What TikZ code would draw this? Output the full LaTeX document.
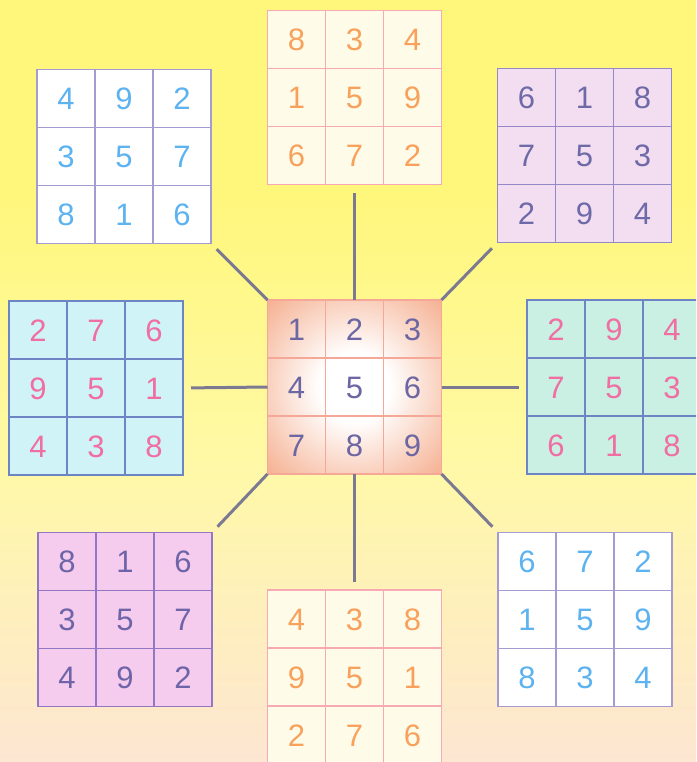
\documentclass[tikz,border=0pt]{standalone}
\usepackage{fontspec}
\setmainfont{Liberation Sans}
\usetikzlibrary{calc}
\definecolor{bgtop}{HTML}{FFF77C}
\definecolor{bgmid}{HTML}{FFF9A6}
\definecolor{bgbot}{HTML}{FDE6D2}
\definecolor{connc}{HTML}{7B7A92}
\definecolor{cenline}{HTML}{F5A898}
\definecolor{centext}{HTML}{6C66A3}
\definecolor{cenouter}{HTML}{F5AE8E}
\definecolor{crfill}{HTML}{FFFBE9}
\definecolor{crline}{HTML}{F7A9B4}
\definecolor{crtext}{HTML}{F7A15C}
\definecolor{whline}{HTML}{A59BD0}
\definecolor{whtext}{HTML}{5DB2F0}
\definecolor{lvfill}{HTML}{F3DDF0}
\definecolor{lvline}{HTML}{9488C6}
\definecolor{lvtext}{HTML}{6E6AA8}
\definecolor{pkfill}{HTML}{F5CBEE}
\definecolor{pkline}{HTML}{9278C4}
\definecolor{pktext}{HTML}{6E64A8}
\definecolor{cyfill}{HTML}{CFF3F6}
\definecolor{mnfill}{HTML}{C9F0E3}
\definecolor{blline}{HTML}{6E84C4}
\definecolor{pitext}{HTML}{F06EA2}
\pgfdeclareverticalshading{bgshade}{100bp}{color(0bp)=(bgbot); color(25bp)=(bgbot); color(45bp)=(bgmid); color(62bp)=(bgtop); color(75bp)=(bgtop); color(100bp)=(bgtop)}
\pgfdeclareradialshading{censhade}{\pgfpoint{0bp}{0bp}}{color(0bp)=(white); color(10bp)=(white); color(36bp)=(cenouter); color(50bp)=(cenouter)}
\tikzset{
  sqbox/.style={rectangle, minimum size=174pt, inner sep=0pt, outer sep=0pt, line width=1.5pt},
  digit/.style={font=\fontsize{31}{31}\selectfont, inner sep=0pt, text height=22pt, text depth=0pt, anchor=center},
  conn/.style={draw=connc, line width=3pt, shorten >=8pt},
  cenbox/.style={draw=cenline, shading=censhade},
  cenline/.style={draw=cenline, line width=1.5pt},
  centext/.style={text=centext},
  crbox/.style={draw=crline, fill=crfill},
  crline/.style={draw=crline, line width=1.5pt},
  crtext/.style={text=crtext},
  whbox/.style={draw=whline, fill=white},
  whline/.style={draw=whline, line width=1.5pt},
  whtext/.style={text=whtext},
  lvbox/.style={draw=lvline, fill=lvfill},
  lvline/.style={draw=lvline, line width=1.5pt},
  lvtext/.style={text=lvtext},
  pkbox/.style={draw=pkline, fill=pkfill},
  pkline/.style={draw=pkline, line width=1.5pt},
  pktext/.style={text=pktext},
  cybox/.style={draw=blline, fill=cyfill},
  cyline/.style={draw=blline, line width=1.5pt},
  cytext/.style={text=pitext},
  mnbox/.style={draw=blline, fill=mnfill},
  mnline/.style={draw=blline, line width=1.5pt},
  mntext/.style={text=pitext},
}
\newcommand\magicsq[4]{%
  \node[sqbox, #3box] (#1) at (#2) {};
  \foreach \k in {1,2} {
    \draw[#3line] ($(#1.north west)!\k/3!(#1.north east)$) -- ($(#1.south west)!\k/3!(#1.south east)$);
    \draw[#3line] ($(#1.north west)!\k/3!(#1.south west)$) -- ($(#1.north east)!\k/3!(#1.south east)$);
  }
  \foreach \d [count=\i from 0] in {#4} {
    \pgfmathtruncatemacro\rr{int(\i/3)}
    \pgfmathtruncatemacro\cc{mod(\i,3)}
    \node[digit, #3text] at ($(#1.center)+(\cc*58-58,\rr*58-58)$) {\d};
  }
}
\begin{document}
\begin{tikzpicture}[x=1pt,y=-1pt]
  \useasboundingbox (0,0) rectangle (696,762);
  \clip (0,0) rectangle (696,762);
  \shade[shading=bgshade] (0,0) rectangle (696,762);
  \magicsq{c}{354.5,387}{cen}{1,2,3,4,5,6,7,8,9}
  \magicsq{n}{354.5,97.5}{cr}{8,3,4,1,5,9,6,7,2}
  \magicsq{s}{354.5,677}{cr}{4,3,8,9,5,1,2,7,6}
  \magicsq{nw}{124,156.5}{wh}{4,9,2,3,5,7,8,1,6}
  \magicsq{se}{585,619.5}{wh}{6,7,2,1,5,9,8,3,4}
  \magicsq{ne}{584.5,155.5}{lv}{6,1,8,7,5,3,2,9,4}
  \magicsq{sw}{125,619.5}{pk}{8,1,6,3,5,7,4,9,2}
  \magicsq{w}{96,388}{cy}{2,7,6,9,5,1,4,3,8}
  \magicsq{e}{614,387}{mn}{2,9,4,7,5,3,6,1,8}
  \draw[conn] (c.north) -- (n.south);
  \draw[conn] (c.south) -- (s.north);
  \draw[conn] (c.west) -- (w.east);
  \draw[conn] (c.east) -- (e.west);
  \draw[conn] (c.north west) -- (nw.south east);
  \draw[conn] (c.north east) -- (ne.south west);
  \draw[conn] (c.south west) -- (sw.north east);
  \draw[conn] (c.south east) -- (se.north west);
\end{tikzpicture}
\end{document}
